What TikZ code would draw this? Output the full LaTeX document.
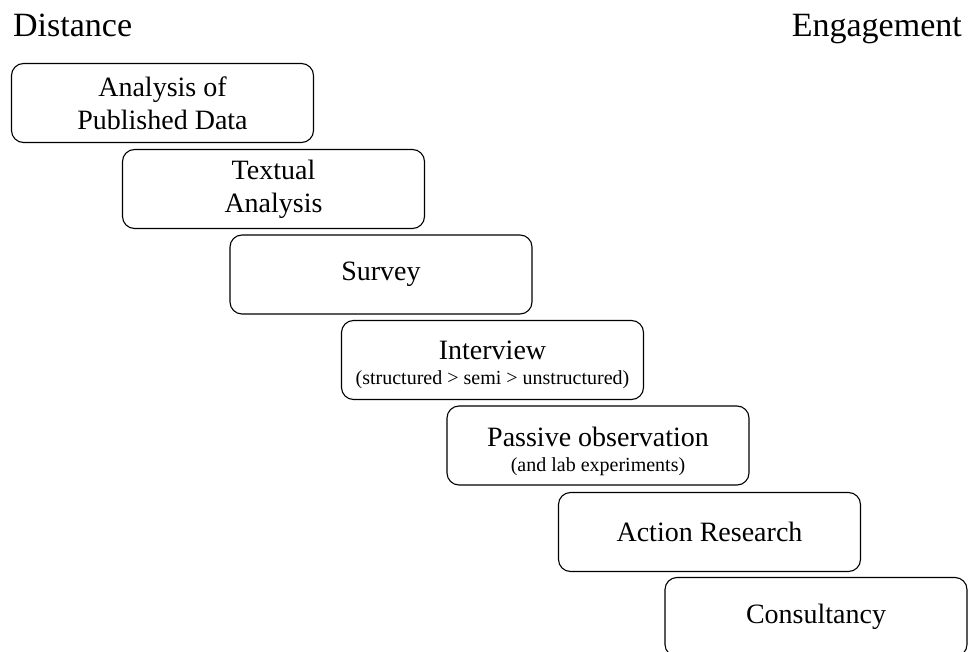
\documentclass[tikz,border=0pt]{standalone}
\usepackage{fontspec}
\setmainfont{Liberation Serif}
\usetikzlibrary{calc}
\begin{document}
\begin{tikzpicture}[x=1pt,y=-1pt,
  stepbox/.style={draw=black, line width=1.1pt, rounded corners=12pt,
    minimum width=302pt, minimum height=79pt, inner sep=0pt, align=center,
    font=\fontsize{28}{33}\selectfont},
  maintext/.style={inner sep=0pt, font=\fontsize{28}{33}\selectfont},
  subtext/.style={inner sep=0pt, font=\fontsize{20}{24}\selectfont},
  heading/.style={inner sep=0pt, font=\fontsize{34}{40}\selectfont}]
\useasboundingbox (0,0) rectangle (969,652);
\clip (0,0) rectangle (969,652);

% column headings
\node[heading, anchor=base west] (dist) at (13,37) {Distance};
\node[heading, anchor=base east] (eng) at (962,37) {Engagement};

% staircase of methods
\node[stepbox] (b1) at (162.5,103) {Analysis of\\Published Data};
\node[stepbox] (b2) at (273.5,189) {Textual\\Analysis};
\node[stepbox] (b3) at (381,274.5) {Survey};
\node[stepbox] (b4) at (492.5,360) {};
\node[maintext] (t4) at ($(b4.center)+(0,-10)$) {Interview};
\node[subtext] (s4) at ($(b4.center)+(0,20)$) {(structured > semi > unstructured)};
\node[stepbox] (b5) at (598,445.5) {};
\node[maintext] (t5) at ($(b5.center)+(0,-9)$) {Passive observation};
\node[subtext] (s5) at ($(b5.center)+(0,21)$) {(and lab experiments)};
\node[stepbox] (b6) at (709.5,532) {Action Research};
\node[stepbox] (b7) at (816,617) {Consultancy};
\end{tikzpicture}
\end{document}
